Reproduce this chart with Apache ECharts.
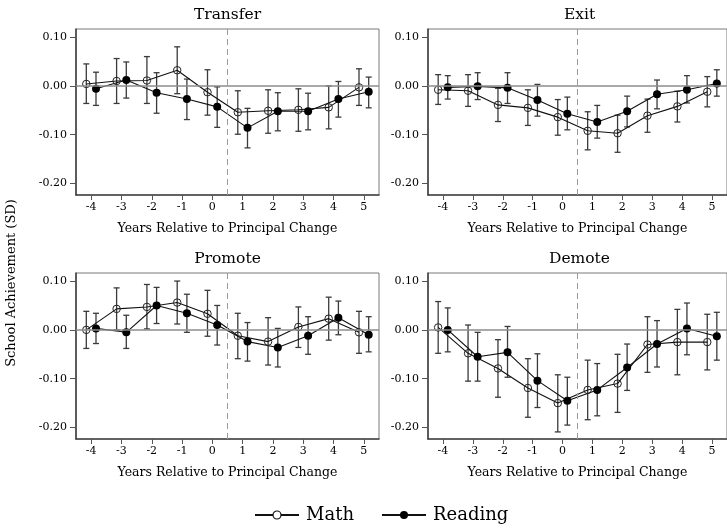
<!DOCTYPE html>
<html>
<head>
<meta charset="utf-8">
<title>School Achievement by Principal Change Type</title>
<script src="https://cdn.jsdelivr.net/npm/echarts@6/dist/echarts.min.js"></script>
<style>
  html, body { margin: 0; padding: 0; background: #fff; }
  #chart { width: 727px; height: 529px; }
</style>
</head>
<body>
<div id="chart"></div>
<script>
// Event-study estimates: years relative to the principal change
const years = [-4, -3, -2, -1, 0, 1, 2, 3, 4, 5];
const yTicks = [-0.2, -0.1, 0, 0.1];
const panelTitles = ['Transfer', 'Exit', 'Promote', 'Demote'];

// Transfer
const transferMath      = [0.004, 0.010, 0.011, 0.032, -0.013, -0.054, -0.051, -0.049, -0.044, -0.003];
const transferMathLo    = [-0.036, -0.036, -0.036, -0.016, -0.060, -0.099, -0.097, -0.093, -0.088, -0.040];
const transferMathHi    = [0.045, 0.056, 0.060, 0.080, 0.033, -0.010, -0.008, -0.006, 0.000, 0.035];
const transferReading   = [-0.006, 0.012, -0.014, -0.027, -0.043, -0.086, -0.052, -0.052, -0.027, -0.012];
const transferReadingLo = [-0.040, -0.025, -0.056, -0.069, -0.085, -0.127, -0.092, -0.090, -0.064, -0.045];
const transferReadingHi = [0.028, 0.049, 0.027, 0.014, -0.002, -0.046, -0.014, -0.015, 0.009, 0.018];

// Exit
const exitMath      = [-0.008, -0.010, -0.039, -0.045, -0.064, -0.092, -0.097, -0.061, -0.042, -0.012];
const exitMathLo    = [-0.038, -0.042, -0.073, -0.081, -0.101, -0.131, -0.136, -0.095, -0.074, -0.043];
const exitMathHi    = [0.023, 0.023, -0.005, -0.008, -0.028, -0.053, -0.060, -0.027, -0.011, 0.019];
const exitReading   = [-0.003, -0.001, -0.004, -0.029, -0.057, -0.074, -0.052, -0.017, -0.008, 0.005];
const exitReadingLo = [-0.027, -0.028, -0.036, -0.062, -0.090, -0.107, -0.084, -0.047, -0.035, -0.021];
const exitReadingHi = [0.021, 0.027, 0.027, 0.003, -0.023, -0.040, -0.021, 0.012, 0.021, 0.033];

// Promote
const promoteMath      = [0.000, 0.043, 0.047, 0.056, 0.033, -0.012, -0.024, 0.006, 0.023, -0.005];
const promoteMathLo    = [-0.038, 0.000, 0.002, 0.012, -0.013, -0.059, -0.072, -0.036, -0.021, -0.048];
const promoteMathHi    = [0.038, 0.086, 0.093, 0.100, 0.081, 0.034, 0.025, 0.047, 0.067, 0.038];
const promoteReading   = [0.003, -0.005, 0.050, 0.034, 0.010, -0.024, -0.036, -0.012, 0.025, -0.010];
const promoteReadingLo = [-0.028, -0.038, 0.013, -0.005, -0.031, -0.064, -0.076, -0.050, -0.010, -0.045];
const promoteReadingHi = [0.034, 0.030, 0.087, 0.073, 0.050, 0.015, 0.003, 0.027, 0.059, 0.027];

// Demote
const demoteMath      = [0.005, -0.048, -0.079, -0.119, -0.150, -0.123, -0.110, -0.030, -0.025, -0.025];
const demoteMathLo    = [-0.048, -0.105, -0.138, -0.179, -0.209, -0.184, -0.169, -0.087, -0.092, -0.082];
const demoteMathHi    = [0.058, 0.010, -0.020, -0.059, -0.092, -0.062, -0.050, 0.027, 0.042, 0.032];
const demoteReading   = [0.000, -0.055, -0.046, -0.104, -0.145, -0.123, -0.077, -0.029, 0.003, -0.013];
const demoteReadingLo = [-0.045, -0.105, -0.097, -0.159, -0.195, -0.176, -0.124, -0.076, -0.051, -0.062];
const demoteReadingHi = [0.045, -0.005, 0.007, -0.049, -0.097, -0.069, -0.029, 0.019, 0.055, 0.036];

const panels = [
  { math: transferMath, mathLo: transferMathLo, mathHi: transferMathHi,
    reading: transferReading, readingLo: transferReadingLo, readingHi: transferReadingHi },
  { math: exitMath, mathLo: exitMathLo, mathHi: exitMathHi,
    reading: exitReading, readingLo: exitReadingLo, readingHi: exitReadingHi },
  { math: promoteMath, mathLo: promoteMathLo, mathHi: promoteMathHi,
    reading: promoteReading, readingLo: promoteReadingLo, readingHi: promoteReadingHi },
  { math: demoteMath, mathLo: demoteMathLo, mathHi: demoteMathHi,
    reading: demoteReading, readingLo: demoteReadingLo, readingHi: demoteReadingHi }
];

const FONT = 'DejaVu Serif';
const DODGE = 0.16;           // horizontal shift separating Math and Reading markers
const CHANGE_POINT = 0.5;     // principal change happens between year 0 and year 1

const gridBoxes = [
  { left: 76,  top: 29 },
  { left: 428, top: 29 },
  { left: 76,  top: 273 },
  { left: 428, top: 273 }
];
const GRID_W = 303, GRID_H = 166;

function errorBar(params, api) {
  const x = api.value(0);
  const lo = api.coord([x, api.value(1)]);
  const hi = api.coord([x, api.value(2)]);
  const cap = 3;
  const style = { stroke: '#3a3a3a', lineWidth: 1.3 };
  return {
    type: 'group',
    children: [
      { type: 'line', shape: { x1: hi[0], y1: hi[1], x2: lo[0], y2: lo[1] }, style },
      { type: 'line', shape: { x1: hi[0] - cap, y1: hi[1], x2: hi[0] + cap, y2: hi[1] }, style },
      { type: 'line', shape: { x1: lo[0] - cap, y1: lo[1], x2: lo[0] + cap, y2: lo[1] }, style }
    ]
  };
}

const grid = [], xAxis = [], yAxis = [], series = [];
const graphic = [{
  type: 'text', x: 5, y: 283, rotation: Math.PI / 2,
  style: {
    text: 'School Achievement (SD)', fontFamily: FONT, fontSize: 13, fill: '#000',
    align: 'center', verticalAlign: 'top'
  }
}];

gridBoxes.forEach((g, i) => {
  grid.push({
    left: g.left, top: g.top, width: GRID_W, height: GRID_H,
    show: true, borderColor: '#7a7a7a', borderWidth: 1, backgroundColor: '#fff'
  });
  // panel heading, centred over the plot area
  graphic.push({
    type: 'text', x: g.left + GRID_W / 2, y: g.top - 14,
    style: {
      text: panelTitles[i], fontFamily: FONT, fontSize: 15.5, fill: '#000',
      align: 'center', verticalAlign: 'middle'
    }
  });
  xAxis.push({
    type: 'value', gridIndex: i, min: -4.5, max: 5.5,
    name: 'Years Relative to Principal Change', nameLocation: 'middle', nameGap: 27,
    nameTextStyle: { fontFamily: FONT, fontSize: 12.5, color: '#000' },
    axisLine: { show: true, onZero: false, lineStyle: { color: '#444', width: 1.6 } },
    axisTick: { show: true, length: 5, customValues: years, lineStyle: { color: '#555' } },
    axisLabel: { customValues: years, margin: 7, fontFamily: FONT, fontSize: 11, color: '#000' },
    splitLine: { show: false }
  });
  yAxis.push({
    type: 'value', gridIndex: i, min: -0.2235, max: 0.1165,
    axisLine: { show: true, onZero: false, lineStyle: { color: '#444', width: 1.6 } },
    axisTick: { show: true, length: 6, customValues: yTicks, lineStyle: { color: '#555' } },
    axisLabel: {
      customValues: yTicks, margin: 9, fontFamily: FONT, fontSize: 11, color: '#000',
      formatter: v => v.toFixed(2)
    },
    splitLine: { show: false }
  });

  const p = panels[i];

  // reference lines: zero effect and the change point
  series.push({
    type: 'line', xAxisIndex: i, yAxisIndex: i, data: [], silent: true, z: 1,
    markLine: {
      silent: true, symbol: 'none', animation: false,
      label: { show: false },
      data: [
        { yAxis: 0, lineStyle: { color: '#8c8c8c', width: 1.6, type: 'solid' } },
        { xAxis: CHANGE_POINT, lineStyle: { color: '#9a9a9a', width: 1, type: [6, 4] } }
      ]
    }
  });

  series.push({
    type: 'custom', xAxisIndex: i, yAxisIndex: i, z: 2, silent: true,
    renderItem: errorBar, encode: { x: 0, y: [1, 2] },
    data: years.map((t, k) => [t - DODGE, p.mathLo[k], p.mathHi[k]])
  });
  series.push({
    type: 'custom', xAxisIndex: i, yAxisIndex: i, z: 2, silent: true,
    renderItem: errorBar, encode: { x: 0, y: [1, 2] },
    data: years.map((t, k) => [t + DODGE, p.readingLo[k], p.readingHi[k]])
  });

  series.push({
    name: 'Math', type: 'line', xAxisIndex: i, yAxisIndex: i, z: 3,
    data: years.map((t, k) => [t - DODGE, p.math[k]]),
    symbol: 'circle', symbolSize: 7.5, showAllSymbol: true,
    lineStyle: { color: '#111', width: 1.1 },
    itemStyle: { color: 'rgba(255,255,255,0)', borderColor: '#222', borderWidth: 1 }
  });
  series.push({
    name: 'Reading', type: 'line', xAxisIndex: i, yAxisIndex: i, z: 3,
    data: years.map((t, k) => [t + DODGE, p.reading[k]]),
    symbol: 'circle', symbolSize: 8, showAllSymbol: true,
    lineStyle: { color: '#111', width: 1.1 },
    itemStyle: { color: '#000', borderColor: '#000', borderWidth: 0 }
  });
});

const chart = echarts.init(document.getElementById('chart'), null, { renderer: 'canvas' });
chart.setOption({
  animation: false,
  backgroundColor: '#fff',
  grid, xAxis, yAxis, series, graphic,
  legend: {
    data: [
      { name: 'Math', itemStyle: { color: '#fff', borderColor: '#111', borderWidth: 1.2 } },
      { name: 'Reading' }
    ],
    left: 249, top: 501,
    itemWidth: 44, itemHeight: 10, itemGap: 27,
    textStyle: { fontFamily: FONT, fontSize: 18, color: '#000', padding: [0, 0, 0, 2] },
    selectedMode: false
  }
});
</script>
</body>
</html>
